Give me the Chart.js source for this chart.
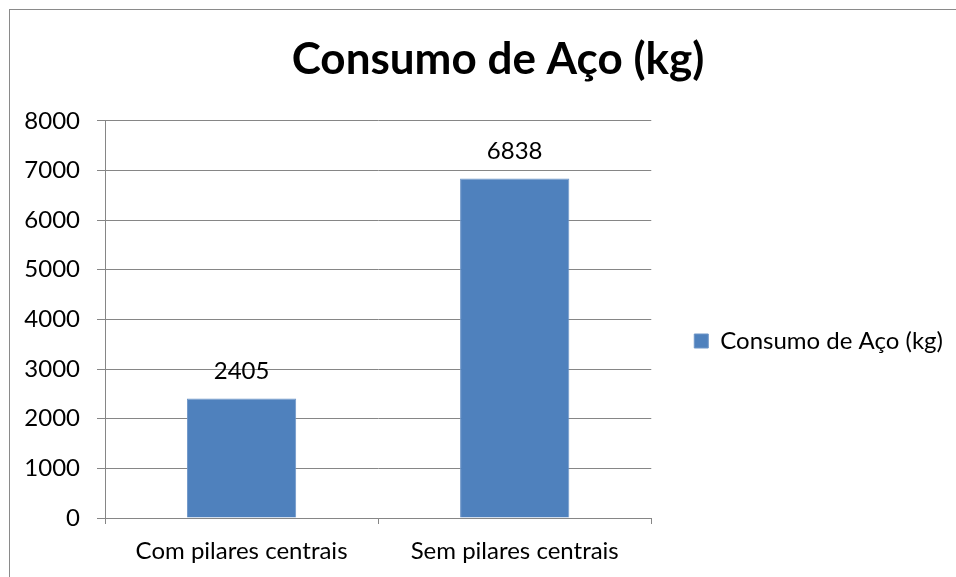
<!DOCTYPE html>
<html>
<head>
<meta charset="UTF-8">
<title>Consumo de Aço</title>
<script src="https://cdn.jsdelivr.net/npm/chart.js@4"></script>
<style>
  html, body { margin:0; padding:0; overflow:hidden; background:#fff; }
  #frame { position:absolute; left:9px; top:9px; width:976px; height:662px; border:1px solid #8a8a8a; }
  #chart { display:block; }
</style>
</head>
<body>
<div id="frame"><canvas id="chart" width="976" height="662"></canvas></div>
<script>
const categories = ['Com pilares centrais', 'Sem pilares centrais'];
const consumo = [2405, 6838];
const seriesName = 'Consumo de Aço (kg)';
const yMax = 8000;
const yStep = 1000;

const gridGray = '#868686';
const textSize = 24;
Chart.defaults.font.family = 'Lato';
Chart.defaults.font.size = textSize;
Chart.defaults.color = '#000';

// value printed above each bar
const valueLabels = {
  id: 'valueLabels',
  afterDatasetsDraw(chart) {
    const ctx = chart.ctx;
    const meta = chart.getDatasetMeta(0);
    ctx.save();
    ctx.font = textSize + 'px Lato';
    ctx.fillStyle = '#000';
    ctx.textAlign = 'center';
    ctx.textBaseline = 'middle';
    meta.data.forEach((bar, i) => ctx.fillText(String(consumo[i]), bar.x, bar.y - 27));
    ctx.restore();
  }
};

// centre the title on the whole frame rather than the padded area
const titleCentre = {
  id: 'titleCentre',
  afterLayout(chart) {
    chart.titleBlock.left = chart.titleBlock.left + 33;
  }
};

new Chart(document.getElementById('chart'), {
  type: 'bar',
  data: {
    labels: categories,
    datasets: [{
      label: seriesName,
      data: consumo,
      backgroundColor: '#4F81BD',
      borderColor: '#6f96c8',
      borderWidth: 1,
      barPercentage: 0.4,
      categoryPercentage: 1.0
    }]
  },
  options: {
    responsive: false,
    animation: false,
    layout: { padding: { left: 0, right: 33 } },
    plugins: {
      title: {
        display: true,
        text: seriesName,
        font: { size: 44, weight: 'bold' },
        color: '#000',
        padding: { top: 23, bottom: 35 }
      },
      legend: {
        position: 'right',
        maxWidth: 400,
        labels: { boxWidth: 14, boxHeight: 14, padding: 43 }
      },
      tooltip: { enabled: false }
    },
    scales: {
      x: {
        afterFit(scale) { scale.height = 154; },
        grid: { drawOnChartArea: false, tickLength: 6, color: gridGray, offset: true },
        border: { color: gridGray },
        ticks: { padding: 13 }
      },
      y: {
        min: 0,
        max: yMax,
        afterFit(scale) { scale.width = 95; },
        grid: { color: gridGray, tickLength: 8 },
        border: { color: gridGray },
        ticks: { stepSize: yStep, padding: 17, callback: v => String(v) }
      }
    }
  },
  plugins: [valueLabels, titleCentre]
});
</script>
</body>
</html>
